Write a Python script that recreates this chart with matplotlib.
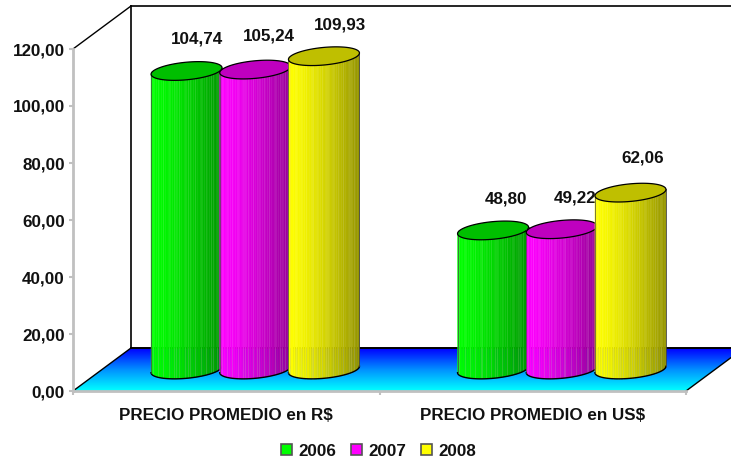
import numpy as np
import matplotlib
matplotlib.use('Agg')
import matplotlib.pyplot as plt
from matplotlib.patches import Patch, Polygon
from matplotlib.colors import LinearSegmentedColormap

plt.rcParams['font.family'] = ['Liberation Sans', 'DejaVu Sans']
plt.rcParams['font.weight'] = 'bold'

# data
categories = ['PRECIO PROMEDIO en R$', 'PRECIO PROMEDIO en US$']
years = ['2006', '2007', '2008']
values_2006 = [104.74, 48.80]
values_2007 = [105.24, 49.22]
values_2008 = [109.93, 62.06]
labels_2006 = ['104,74', '48,80']
labels_2007 = ['105,24', '49,22']
labels_2008 = ['109,93', '62,06']
yticks = [0, 20, 40, 60, 80, 100, 120]
yticklabels = ['0,00', '20,00', '40,00', '60,00', '80,00', '100,00', '120,00']

colors = [(0, 1, 0), (1, 0, 1), (1, 1, 0)]

# scale of the axes, pixels per data unit
SX = 613 / 2
SY = 342 / 120
# 3d depth of the box
DX = 58 / SX
DY = 43 / SY
# cylinder shape in pixels
HALF_W = 35.5 / SX
HALF_H = 8.8 / SY
SHEAR = 3.2 / SY
SPACING = 68.7 / SX
FONT = 12.25

fig = plt.figure(figsize=(7.31, 4.61), dpi=100)
ax = fig.add_axes([73 / 731, (461 - 391) / 461, 613 / 731, 342 / 461])
ax.patch.set_alpha(0)


def draw_box():
    # back wall lines
    top = 120 + 0.0
    ax.plot([0, DX], [top, top + DY], color='k', lw=1, clip_on=False, zorder=0.6)
    ax.plot([DX, DX], [DY, top + DY], color='k', lw=1.2, clip_on=False, zorder=0.6)
    ax.plot([DX, 2.2], [top + DY, top + DY], color='k', lw=1.2, clip_on=False, zorder=0.6)

    # floor with the blue to cyan gradient
    floor = Polygon([(0, 0), (2, 0), (2 + DX, DY), (DX, DY)], closed=True,
                    transform=ax.transData, fc='none', ec='none')
    ax.add_patch(floor)
    floor.set_clip_on(False)
    cmap = LinearSegmentedColormap.from_list('floor', ['#0000ff', '#0090ff', '#00ffff'])
    grad = np.linspace(0, 1, 64).reshape(-1, 1)
    im = ax.imshow(grad, cmap=cmap, extent=[0, 2 + DX, 0, DY], origin='upper',
                   aspect='auto', zorder=0.5)
    im.set_clip_box(fig.bbox)
    im.set_clip_path(floor)
    ax.plot([DX, 2 + DX], [DY, DY], color='k', lw=1.4, clip_on=False, zorder=0.7)
    ax.plot([0, DX], [0, DY], color='k', lw=1, clip_on=False, zorder=0.7)
    ax.plot([2, 2 + DX], [0, DY], color='k', lw=1, clip_on=False, zorder=0.7)


def draw_cylinder(cx, value, color, z):
    base = DY / 2
    top = base + value
    color = np.array(color)

    # body is a row of thin strips, dark to the right
    edges = np.linspace(-1, 1, 41)
    for i in range(40):
        u0, u1 = edges[i], edges[i + 1]
        um = (u0 + u1) / 2
        shade = 1.0 - 0.42 * ((um + 1) / 2) ** 1.4
        low0 = base + SHEAR * u0 - HALF_H * np.sqrt(1 - u0 ** 2)
        low1 = base + SHEAR * u1 - HALF_H * np.sqrt(1 - u1 ** 2)
        xs = [cx + HALF_W * u0, cx + HALF_W * u1, cx + HALF_W * u1, cx + HALF_W * u0]
        ys = [low0, low1, top + SHEAR * u1, top + SHEAR * u0]
        ax.fill(xs, ys, color=tuple(color * shade), lw=0.3, clip_on=False, zorder=z)
        # the faint lighter stripes of the original render
        if i % 3 == 1 or i % 7 == 0:
            lc = tuple(color * shade * 0.7 + 0.3)
            ax.plot([cx + HALF_W * u0] * 2, [low0, top], color=lc, lw=0.5, alpha=0.4,
                    clip_on=False, zorder=z + 0.01)
            ax.plot([cx + HALF_W * u0] * 2, [low0 + 0.5, DY], color=(0.6, 0.65, 0.6), lw=0.5,
                    alpha=0.22, clip_on=False, zorder=z + 0.01)

    # outline of the body
    t = np.linspace(np.pi, 2 * np.pi, 60)
    ax.plot(cx + HALF_W * np.cos(t), base + SHEAR * np.cos(t) + HALF_H * np.sin(t),
            color='k', lw=1, clip_on=False, zorder=z + 0.02)
    ax.plot([cx - HALF_W] * 2, [base - SHEAR, top - SHEAR], color='#444444', lw=0.5,
            clip_on=False, zorder=z + 0.02)
    ax.plot([cx + HALF_W] * 2, [base + SHEAR, top + SHEAR], color='#444444', lw=0.6,
            clip_on=False, zorder=z + 0.02)

    # lid
    t = np.linspace(0, 2 * np.pi, 100)
    ax.fill(cx + HALF_W * np.cos(t), top + SHEAR * np.cos(t) + HALF_H * np.sin(t),
            fc=tuple(color * 0.75), ec='k', lw=0.9, clip_on=False, zorder=z + 0.03)


draw_box()

series = [values_2006, values_2007, values_2008]
series_labels = [labels_2006, labels_2007, labels_2008]
label_shift_x = [[10, 13], [14, 13], [16, 12]]
label_shift_y = [[32, 31], [34, 31], [31, 35]]
for s in range(3):
    z = 2 + s
    for c in range(2):
        cx = c + 0.5 + DX / 2 + (s - 1) * SPACING
        draw_cylinder(cx, series[s][c], colors[s], z)
        # value label sits above the lid, under the next series
        ax.annotate(series_labels[s][c], (cx, DY / 2 + series[s][c]),
                    xytext=(label_shift_x[s][c] * 0.72, label_shift_y[s][c] * 0.72),
                    textcoords='offset points', ha='center', va='center', fontsize=FONT,
                    color='#111111', annotation_clip=False, zorder=z + 0.5)

ax.set_xlim(0, 2)
ax.set_ylim(0, 120)
ax.set_yticks(yticks)
ax.set_yticklabels(yticklabels, fontsize=FONT, color='#111111')
ax.set_xticks([0, 1, 2])
ax.set_xticklabels([])
ax.set_xticks([0.5, 1.5], labels=categories, minor=True, fontsize=FONT, color='#111111')
ax.tick_params(axis='x', which='minor', length=0, pad=12)
ax.tick_params(axis='x', which='major', length=3, width=1.5, color='#c0c0c0')
ax.tick_params(axis='y', length=3, width=1.5, color='#c0c0c0', pad=3)
for side in ['top', 'right']:
    ax.spines[side].set_visible(False)
for side in ['left', 'bottom']:
    ax.spines[side].set_color('#c0c0c0')
    ax.spines[side].set_linewidth(2)
    ax.spines[side].set_zorder(1)

handles = [Patch(fc=colors[i], ec='#555555', lw=1.2, label=years[i]) for i in range(3)]
fig.legend(handles=handles, ncol=3, frameon=False, loc='center', bbox_to_anchor=(378.5 / 731, 1 - 451 / 461),
           fontsize=FONT, handlelength=0.66, handleheight=0.66, handletextpad=0.36,
           columnspacing=0.85, borderpad=0, labelcolor='#111111')

fig.savefig('out.png', dpi=100)
